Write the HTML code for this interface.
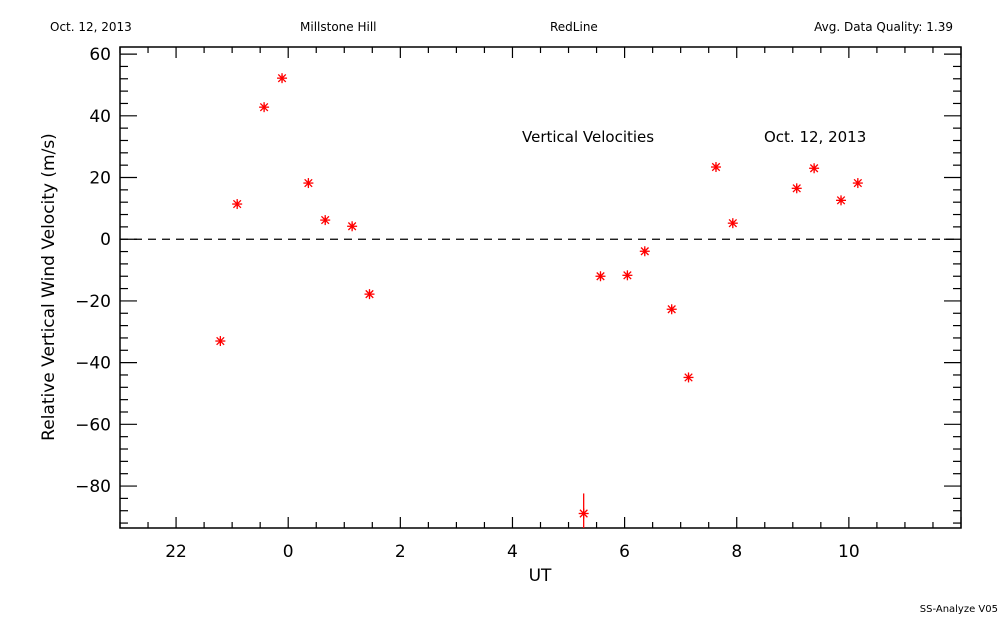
<!DOCTYPE html>
<html><head><meta charset="utf-8"><style>
html,body{margin:0;padding:0;background:#fff;}
svg{display:block;font-family:"DejaVu Sans","Liberation Sans",sans-serif;}
</style></head><body>
<svg id="chart" width="1000" height="625" viewBox="0 0 1000 625">
<rect width="1000" height="625" fill="#fff"/>
<text x="50" y="31" font-size="12">Oct. 12, 2013</text>
<text x="300" y="31" font-size="12">Millstone Hill</text>
<text x="550" y="31" font-size="12">RedLine</text>
<text x="953" y="31" font-size="12" text-anchor="end">Avg. Data Quality: 1.39</text>
<text x="522" y="142" font-size="15">Vertical Velocities</text>
<text x="764" y="142" font-size="15">Oct. 12, 2013</text>
<text x="540" y="581" font-size="17" text-anchor="middle">UT</text>
<text transform="translate(54,287) rotate(-90)" font-size="17" text-anchor="middle">Relative Vertical Wind Velocity (m/s)</text>
<text x="998" y="612" font-size="10" text-anchor="end">SS-Analyze V05</text>
<g id="axes"></g>
<g id="marks"></g>
</svg>
<script>
const hours = [-1.21,-0.91,-0.43,-0.11,0.36,0.66,1.14,1.45,5.27,5.57,6.05,6.36,6.84,7.14,7.63,7.93,9.07,9.38,9.86,10.16];
const velocities = [-33,11.4,42.8,52.2,18.2,6.2,4.2,-17.8,-88.9,-12,-11.7,-3.9,-22.7,-44.8,23.4,5.2,16.5,23,12.6,18.2];
const errors = [1,1,1,1,1,1,1,1,6.5,1,1,1,1,1,1,1,1,1,1,1];
const xTickValues = [-2,0,2,4,6,8,10];
const xTickLabels = ["22","0","2","4","6","8","10"];
const yTickValues = [60,40,20,0,-20,-40,-60,-80];
const yTickLabels = ["60","40","20","0","\u221220","\u221240","\u221260","\u221280"];

const L=120,R=961,T=47,B=528;
const X0=-3,X1=12,Y0=-93.6,Y1=62.3;
const xs=v=>L+(v-X0)/(X1-X0)*(R-L);
const ys=v=>B-(v-Y0)/(Y1-Y0)*(B-T);
const NS="http://www.w3.org/2000/svg";
function mk(tag,attrs,parent){const e=document.createElementNS(NS,tag);for(const k in attrs)e.setAttribute(k,attrs[k]);parent.appendChild(e);return e;}
const axes=document.getElementById('axes'), marks=document.getElementById('marks');

const frame=mk('rect',{x:L,y:T,width:R-L,height:B-T,fill:'none',stroke:'#000','stroke-width':1.5},axes);



// x ticks: minor every 0.5h
for(let h=X0;h<=X1+1e-9;h+=0.5){
  const major=Math.abs(h/2-Math.round(h/2))<1e-9;
  const len=major?11:6, x=xs(h);
  const t1=mk('line',{x1:x,y1:B,x2:x,y2:B-len,stroke:'#000','stroke-width':1.2},axes);
  
  
  const t2=mk('line',{x1:x,y1:T,x2:x,y2:T+len,stroke:'#000','stroke-width':1.2},axes);
  
  
}
xTickValues.forEach((v,i)=>{
  const t=mk('text',{x:xs(v),y:557,'font-size':17,'text-anchor':'middle'},axes);
  t.textContent=xTickLabels[i];
  
  
});
// y ticks: minor every 4
for(let v=-92;v<=60;v+=4){
  const major=v%20===0;
  const len=major?17:8, y=ys(v);
  const t1=mk('line',{x1:L,y1:y,x2:L+len,y2:y,stroke:'#000','stroke-width':1.2},axes);
  
  
  const t2=mk('line',{x1:R,y1:y,x2:R-len,y2:y,stroke:'#000','stroke-width':1.2},axes);
  
  
}
yTickValues.forEach((v,i)=>{
  const t=mk('text',{x:111,y:ys(v)+6,'font-size':17,'text-anchor':'end'},axes);
  t.textContent=yTickLabels[i];
  
  
});
const zl=mk('line',{x1:L,y1:ys(0),x2:R,y2:ys(0),stroke:'#000','stroke-width':1.2,'stroke-dasharray':'8,6'},axes);



const clip=mk('clipPath',{id:'pc'},marks);
mk('rect',{x:L,y:T,width:R-L,height:B-T},clip);
hours.forEach((h,i)=>{
  const cx=xs(h), cy=ys(velocities[i]);
  const g=mk('g',{stroke:'#f00','stroke-width':1.3,'clip-path':'url(#pc)'},marks);
  
  
  mk('line',{x1:cx,y1:ys(velocities[i]+errors[i]),x2:cx,y2:ys(velocities[i]-errors[i])},g);
  const r=5;
  mk('line',{x1:cx-r,y1:cy,x2:cx+r,y2:cy},g);
  mk('line',{x1:cx,y1:cy-r,x2:cx,y2:cy+r},g);
  mk('line',{x1:cx-r*0.75,y1:cy-r*0.75,x2:cx+r*0.75,y2:cy+r*0.75},g);
  mk('line',{x1:cx-r*0.75,y1:cy+r*0.75,x2:cx+r*0.75,y2:cy-r*0.75},g);
});
</script>
</body></html>
